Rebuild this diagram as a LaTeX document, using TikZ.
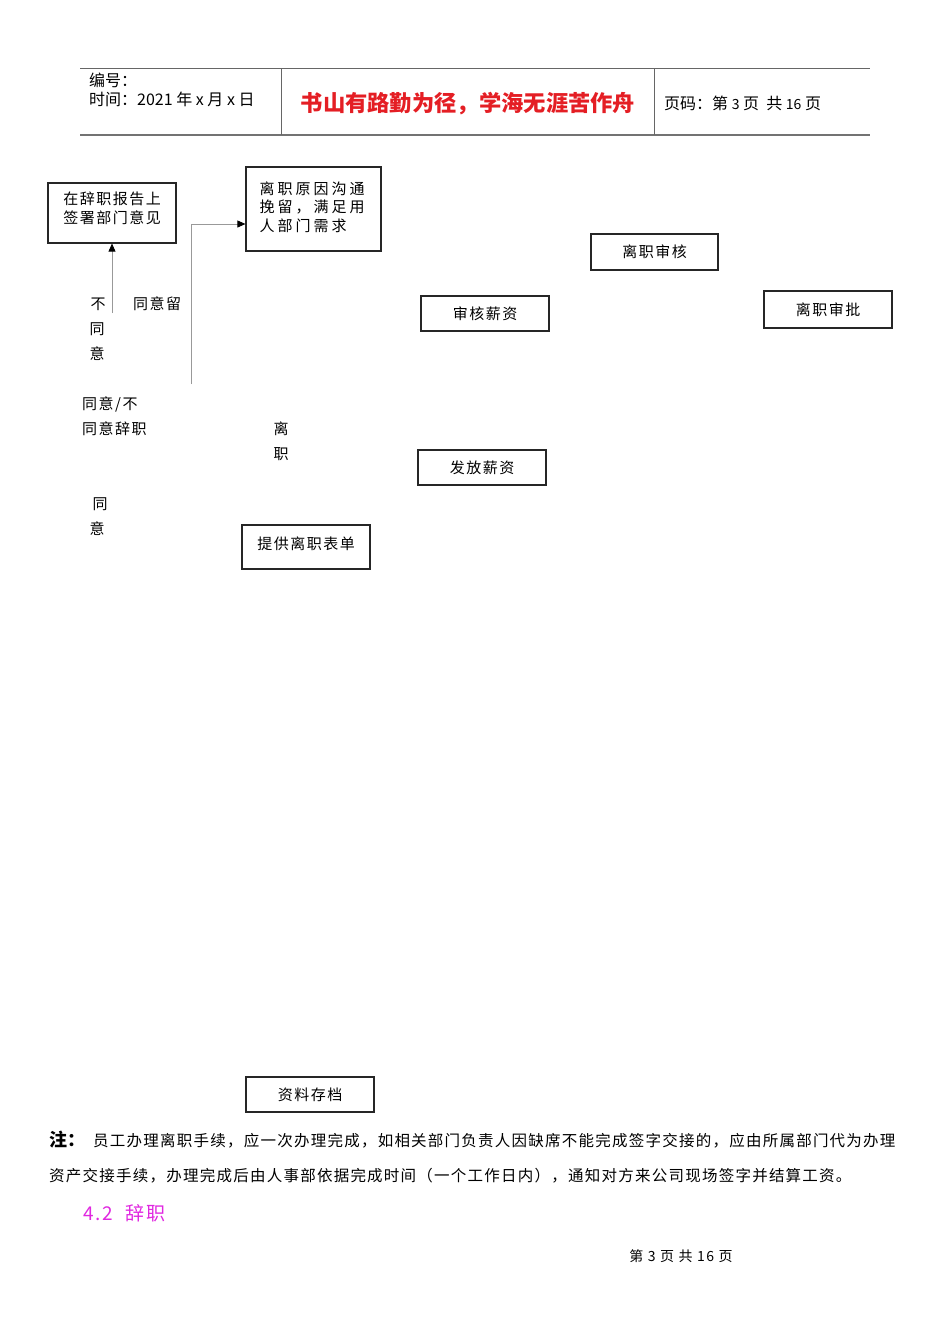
\documentclass[tikz,border=0pt]{standalone}
\usepackage{fontspec}
\setmainfont{Noto Sans CJK SC}
\newfontfamily\cjk{Noto Sans CJK SC}[LetterSpace=10]
\newfontfamily\cjkw{Noto Sans CJK SC}[LetterSpace=20]
\newfontfamily\cjknote{Noto Sans CJK SC}[LetterSpace=8]
\newfontfamily\hei{Noto Sans CJK SC}
\usetikzlibrary{arrows.meta}
\definecolor{titlered}{RGB}{228,30,36}
\definecolor{magentah}{RGB}{224,40,224}
\begin{document}
\begin{tikzpicture}[x=1pt,y=-1pt,
  box/.style={draw=black!85,line width=1.2pt,inner sep=0pt,align=center,
    font=\cjk\fontsize{15}{19}\selectfont},
  lbl/.style={inner sep=0pt,font=\cjk\fontsize{15}{19}\selectfont},
  conn/.style={draw=black!40,line width=0.8pt},
  tip/.style={-{Triangle[length=8pt,width=7pt,color=black]}},
  rule/.style={draw=black!60,line width=0.8pt}]
\useasboundingbox (0,0) rectangle (950,1344);
% header
\coordinate (hl1) at (80,68);
\coordinate (hr1) at (870,68);
\coordinate (hl2) at (80,135);
\coordinate (hr2) at (870,135);
\draw[rule] (hl1) -- (hr1);
\draw[draw=black!55,line width=1.8pt] (hl2) -- (hr2);
\coordinate (v1a) at (281,68); \coordinate (v1b) at (281,135);
\coordinate (v2a) at (654,68); \coordinate (v2b) at (654,135);
\draw[rule] (v1a) -- (v1b);
\draw[rule] (v2a) -- (v2b);
\node[anchor=west,inner sep=0pt,font=\hei\fontsize{16}{16}\selectfont] (hno) at (89,80) {编号：};
\node[anchor=west,inner sep=0pt,font=\hei\fontsize{16}{16}\selectfont] (htime) at (89,99) {时间：2021 年 x 月 x 日};
\node[inner sep=0pt,text=titlered,font=\hei\bfseries\fontsize{22.3}{22.3}\selectfont] (htitle) at (468,104) {书山有路勤为径，学海无涯苦作舟};
\node[anchor=west,inner sep=0pt,font=\hei\fontsize{16}{16}\selectfont] (hpage) at (664,103) {页码：第 {\fontsize{14}{14}\selectfont 3} 页\ \ 共 {\fontsize{14}{14}\selectfont 16} 页};

% boxes
\node[box,minimum width=128,minimum height=60,text depth=10pt] (b1) at (112,213) {在辞职报告上\\签署部门意见};
\node[box,minimum width=135,minimum height=84,font=\cjkw\fontsize{15}{18.5}\selectfont] (b2) at (313.5,209)
  {\hspace*{-3pt}\raisebox{8pt}{\begin{tabular}{@{}l@{}}离职原因沟通\\挽留，满足用\\人部门需求\end{tabular}}};
\node[box,minimum width=127,minimum height=36] (b3) at (654.5,252) {离职审核};
\node[box,minimum width=128,minimum height=35] (b4) at (485,313.5) {审核薪资};
\node[box,minimum width=128,minimum height=37] (b5) at (828,309.5) {离职审批};
\node[box,minimum width=128,minimum height=35] (b6) at (482,467.5) {发放薪资};
\node[box,minimum width=128,minimum height=44,text depth=7pt] (b7) at (306,547) {提供离职表单};
\node[box,minimum width=128,minimum height=35] (b8) at (310,1094.5) {资料存档};

% connectors
\coordinate (c1) at (112,313);
\draw[conn,tip] (c1) -- (b1.south);
\coordinate (c2) at (191,384);
\draw[conn,tip] (c2) |- ([yshift=-15pt]b2.west);

% labels
\node[lbl] (l1) at (98,304) {不};
\node[lbl] (l2) at (97,329) {同};
\node[lbl] (l3) at (97,354) {意};
\node[lbl,anchor=west] (l4) at (133,304) {同意留};
\node[lbl,anchor=west] (l5) at (82,404) {同意/不};
\node[lbl,anchor=west] (l6) at (82,429) {同意辞职};
\node[lbl] (l7) at (281,429) {离};
\node[lbl] (l8) at (281,454) {职};
\node[lbl] (l9) at (100,504) {同};
\node[lbl] (l10) at (97,529) {意};

% note
\node[anchor=west,inner sep=0pt,font=\hei\bfseries\fontsize{18}{18}\selectfont] (n0) at (49,1140) {注：};
\node[anchor=west,inner sep=0pt,font=\cjknote\fontsize{15.5}{15.5}\selectfont] (n1) at (93,1141) {员工办理离职手续，应一次办理完成，如相关部门负责人因缺席不能完成签字交接的，应由所属部门代为办理};
\node[anchor=west,inner sep=0pt,font=\cjknote\fontsize{15.5}{15.5}\selectfont] (n2) at (49,1176) {资产交接手续，办理完成后由人事部依据完成时间（一个工作日内），通知对方来公司现场签字并结算工资。};
\node[anchor=west,inner sep=0pt,text=magentah,font=\cjk\fontsize{19}{19}\selectfont] (sec) at (83,1213) {4.2\ \ 辞职};
\node[inner sep=0pt,font=\cjk\fontsize{14}{14}\selectfont] (foot) at (681,1256) {第 3 页 共 16 页};
\end{tikzpicture}
\end{document}
